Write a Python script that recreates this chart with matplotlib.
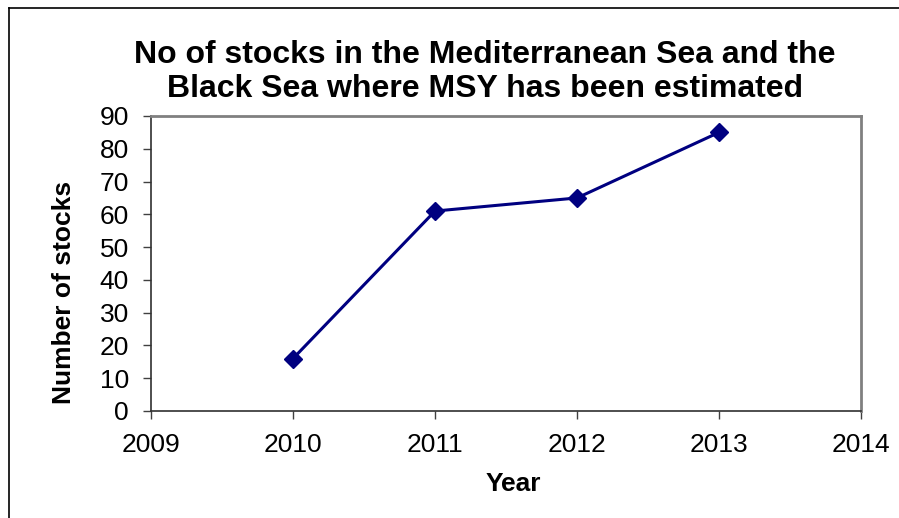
import matplotlib
matplotlib.use("Agg")
import matplotlib.pyplot as plt
from matplotlib.lines import Line2D

years = [2010, 2011, 2012, 2013]
stocks = [16, 61, 65, 85]
xticks = [2009, 2010, 2011, 2012, 2013, 2014]
yticks = [0, 10, 20, 30, 40, 50, 60, 70, 80, 90]

plt.rcParams['font.family'] = ['Liberation Sans', 'DejaVu Sans']

fig = plt.figure(figsize=(8.99, 5.18), dpi=100)
W, H = 899, 518
ax = fig.add_axes([151 / W, (H - 411) / H, (861 - 151) / W, (411 - 116) / H])

# outer chart border (top and left visible)
fig.add_artist(Line2D([9 / W, 9 / W], [0, (H - 8) / H], color='black', lw=1.2, transform=fig.transFigure))
fig.add_artist(Line2D([9 / W, 1], [(H - 8) / H, (H - 8) / H], color='black', lw=1.2, transform=fig.transFigure))

ax.plot(years, stocks, color='#000080', lw=2.2, marker='D', markersize=9.5, markerfacecolor='#000080',
        markeredgecolor='#000080', clip_on=False)

ax.set_xlim(2009, 2014)
ax.set_ylim(0, 90)
ax.set_xticks(xticks)
ax.set_yticks(yticks)
ax.tick_params(axis='both', labelsize=19, direction='out', length=6, width=1, color='#404040')
ax.tick_params(axis='x', pad=9.5)
ax.tick_params(axis='y', pad=10)

for s in ['top', 'right']:
    ax.spines[s].set_color('#808080')
    ax.spines[s].set_linewidth(2)
for s in ['left', 'bottom']:
    ax.spines[s].set_color('#303030')
    ax.spines[s].set_linewidth(1.2)

ax.set_xlabel('Year', fontsize=19, fontweight='bold', labelpad=11, x=0.511)
ax.set_ylabel('Number of stocks', fontsize=19, fontweight='bold', labelpad=16.5, y=0.403)

fig.text(485 / W, (H - 72) / H,
         'No of stocks in the Mediterranean Sea and the\nBlack Sea where MSY has been estimated',
         ha='center', va='center', fontsize=23, fontweight='bold', linespacing=1.2)

fig.savefig('out.png', dpi=100)
